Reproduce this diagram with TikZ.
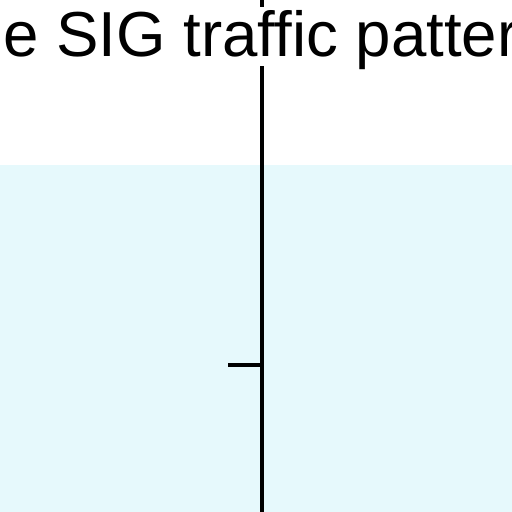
\documentclass[tikz,border=0pt]{standalone}
\usepackage{fontspec}
\setmainfont{Liberation Sans}
\usetikzlibrary{calc}
\definecolor{paleCyan}{RGB}{230,249,252}

\begin{document}
\begin{tikzpicture}[x=0.5pt,y=-0.5pt]
	%%%%% START %%%%%
	\def\w{512}
	\def\xaxis{262}
	\def\yband{165}
	\def\ysplit{313}
	\def\ytick{365}
	\def\xtick{228}
	\def\lw{1.75pt}
	
	\useasboundingbox (0,0) rectangle (\w,\w);
	\fill[paleCyan] (0,\yband) rectangle (\w,\w);
	
	\coordinate (top) at (\xaxis,-10);
	\coordinate (split) at (\xaxis,\ysplit);
	\coordinate (tick) at (\xaxis,\ytick);
	\coordinate (tickend) at (\xtick,\ytick);
	\coordinate (bottom) at (\xaxis,\w+10);
	
	\draw[line width=\lw] (top) -- (split);
	\draw[line width=\lw] (split) -- (bottom);
	\draw[line width=\lw] (tickend) -- (tick);
	
	\node[fill=white, inner sep=0pt, anchor=base west, font=\fontsize{31.8}{38}\selectfont, text height=25pt, text depth=4.5pt] (title) at (-50,57) {the SIG traffic pattern};
	%%%%% END %%%%%
\end{tikzpicture}
\end{document}
